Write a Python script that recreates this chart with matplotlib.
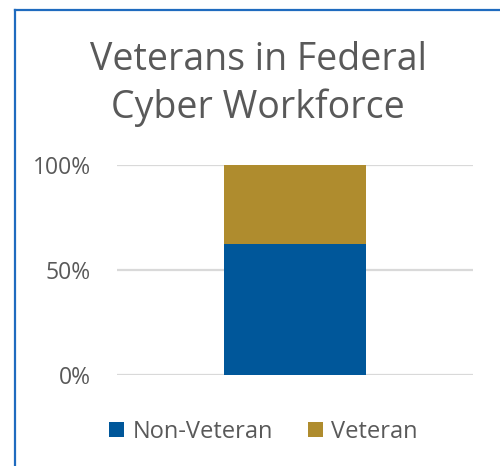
import matplotlib
matplotlib.use("Agg")
import matplotlib.pyplot as plt
from matplotlib.patches import Patch
from matplotlib.lines import Line2D

# Data
categories = ["Federal Cyber Workforce"]
series_names = ["Non-Veteran", "Veteran"]
non_veteran = [0.625]
veteran = [0.375]
colors = ["#00579A", "#AF8C2E"]
yticks = [0, 0.5, 1.0]
ytick_labels = ["0%", "50%", "100%"]

plt.rcParams['font.family'] = ['Open Sans', 'DejaVu Sans']
text_gray = "#595959"

fig = plt.figure(figsize=(5, 4.66), dpi=100)
ax = fig.add_axes([0.234, 0.1953, 0.712, 0.4506])

x = range(len(categories))
ax.bar(x, non_veteran, width=0.4, color=colors[0], label=series_names[0], zorder=3)
ax.bar(x, veteran, width=0.4, bottom=non_veteran, color=colors[1], label=series_names[1], zorder=3)

ax.set_xlim(-0.5, 0.5)
ax.set_ylim(0, 1)
ax.set_yticks(yticks)
ax.set_yticklabels(ytick_labels, color=text_gray, fontsize=16.5)
ax.set_xticks([])
ax.tick_params(axis='y', length=0, pad=19)
for s in ax.spines.values():
    s.set_visible(False)
ax.yaxis.grid(True, color="#D9D9D9", linewidth=1.6, zorder=0)
ax.set_axisbelow(True)

fig.text(0.516, 0.82, "Veterans in Federal\nCyber Workforce", ha='center', va='center',
         fontsize=27, color=text_gray, linespacing=1.32)

handles = [Patch(facecolor=c, edgecolor='none') for c in colors]
fig.legend(handles, series_names, loc='center', bbox_to_anchor=(0.527, 0.074), ncol=2,
           frameon=False, fontsize=17, labelcolor=text_gray, handlelength=0.62,
           handleheight=0.62, handletextpad=0.35, columnspacing=1.5)

# outer frame (left and top edges visible)
fig.add_artist(Line2D([0.029, 0.029], [0, 0.979], color="#1F6BBF", linewidth=1.6, transform=fig.transFigure))
fig.add_artist(Line2D([0.029, 1.0], [0.979, 0.979], color="#1F6BBF", linewidth=1.6, transform=fig.transFigure))

fig.savefig("out.png", dpi=100)
